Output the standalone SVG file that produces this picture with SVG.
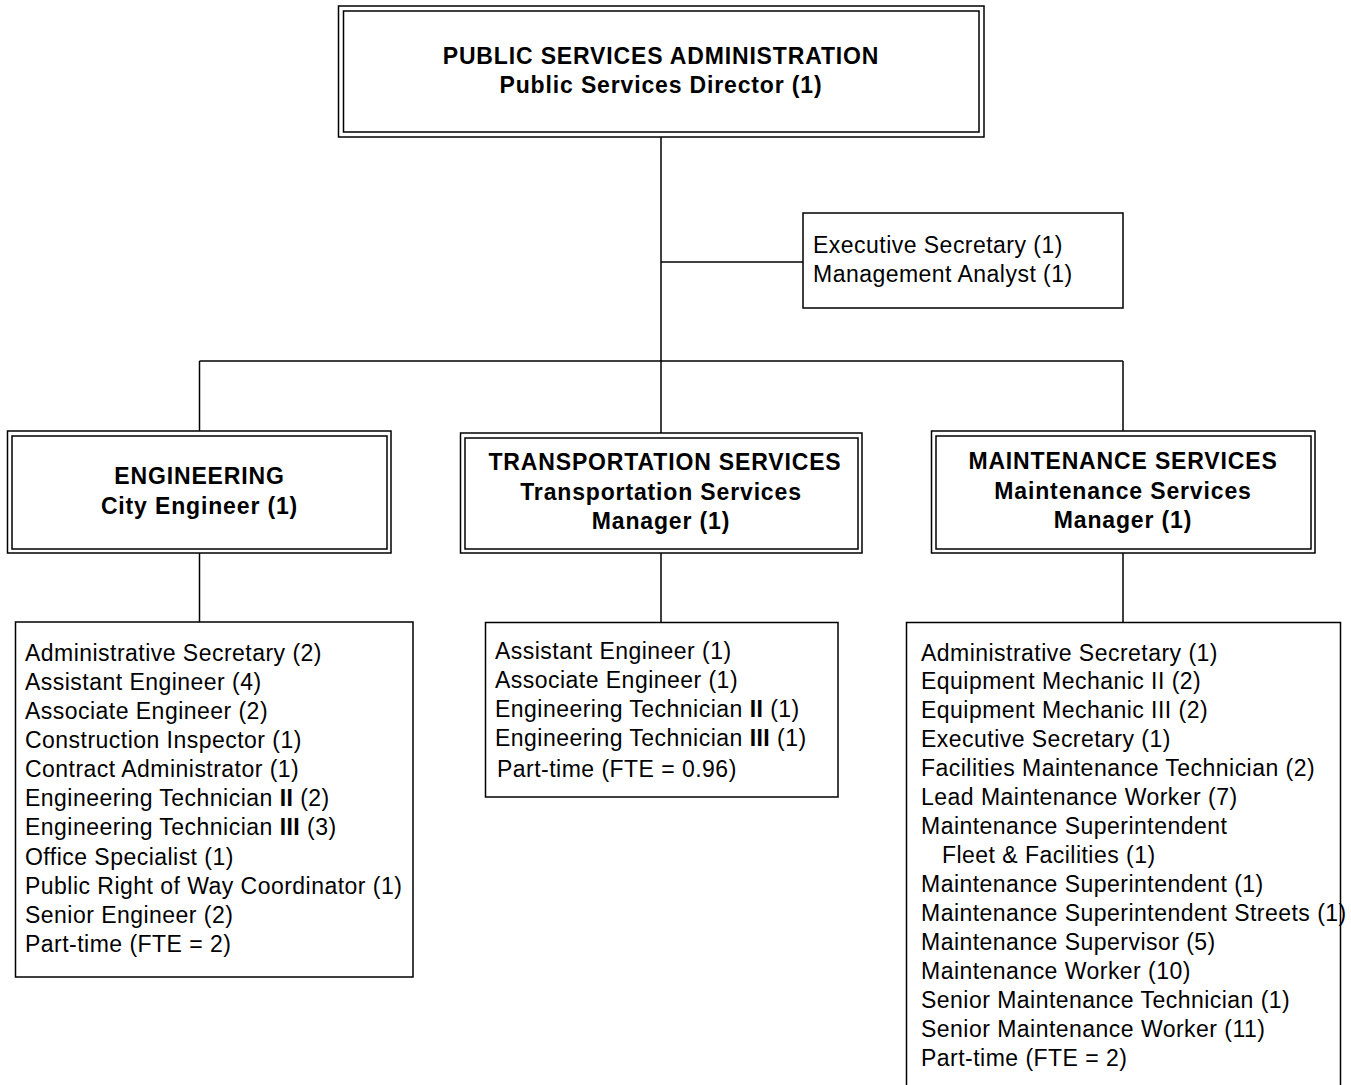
<svg xmlns="http://www.w3.org/2000/svg" width="1351" height="1085" viewBox="0 0 1351 1085">
<style>
rect{fill:none;stroke:#000;stroke-width:1.5}
.c line{stroke:#000;stroke-width:1.5}
text{font-family:"Liberation Sans",Arial,Helvetica,sans-serif;font-size:23px;fill:#000;letter-spacing:0.47px}
.h{font-weight:bold;text-anchor:middle;letter-spacing:0.85px}
.b{font-weight:bold}
</style>
<rect width="1351" height="1085" fill="#fff" stroke="none" style="fill:#fff;stroke:none"/>
<g class="c" id="connectors">
<line x1="661" y1="137" x2="661" y2="433"/>
<line x1="661" y1="262" x2="803" y2="262"/>
<line x1="199.5" y1="361" x2="1123" y2="361"/>
<line x1="199.5" y1="361" x2="199.5" y2="431"/>
<line x1="1123" y1="361" x2="1123" y2="431"/>
<line x1="199.5" y1="553" x2="199.5" y2="622"/>
<line x1="661" y1="553" x2="661" y2="623"/>
<line x1="1123" y1="553" x2="1123" y2="623"/>
</g>
<g id="admin">
<rect x="338.5" y="6" width="645.5" height="131"/>
<rect x="343.5" y="11" width="635.5" height="121"/>
<text class="h" x="661" y="64">PUBLIC SERVICES ADMINISTRATION</text>
<text class="h" x="661" y="93">Public Services Director (1)</text>
</g>
<g id="staff">
<rect x="803" y="213" width="320" height="95"/>
<text x="813" y="253">Executive Secretary (1)</text>
<text x="813" y="282">Management Analyst (1)</text>
</g>
<g id="engineering">
<rect x="7.5" y="431" width="383.5" height="122"/>
<rect x="12" y="436" width="375" height="113"/>
<text class="h" x="199.5" y="484">ENGINEERING</text>
<text class="h" x="199.5" y="514">City Engineer (1)</text>
</g>
<g id="transportation">
<rect x="460.5" y="433" width="401.5" height="120"/>
<rect x="465" y="438" width="393" height="111"/>
<text class="h" x="665" y="470">TRANSPORTATION SERVICES</text>
<text class="h" x="661" y="500">Transportation Services</text>
<text class="h" x="661" y="529">Manager (1)</text>
</g>
<g id="maintenance">
<rect x="931.5" y="431" width="383.5" height="122"/>
<rect x="936" y="436" width="375" height="113"/>
<text class="h" x="1123" y="469">MAINTENANCE SERVICES</text>
<text class="h" x="1123" y="499">Maintenance Services</text>
<text class="h" x="1123" y="528">Manager (1)</text>
</g>
<g id="engineering-staff">
<rect x="15.5" y="622" width="397.5" height="355"/>
<text x="25" y="661">Administrative Secretary (2)</text>
<text x="25" y="690">Assistant Engineer (4)</text>
<text x="25" y="719">Associate Engineer (2)</text>
<text x="25" y="748">Construction Inspector (1)</text>
<text x="25" y="777">Contract Administrator (1)</text>
<text x="25" y="806">Engineering Technician <tspan class="b">II</tspan> (2)</text>
<text x="25" y="835">Engineering Technician <tspan class="b">III</tspan> (3)</text>
<text x="25" y="865">Office Specialist (1)</text>
<text x="25" y="894">Public Right of Way Coordinator (1)</text>
<text x="25" y="923">Senior Engineer (2)</text>
<text x="25" y="952">Part-time (FTE = 2)</text>
</g>
<g id="transportation-staff">
<rect x="485.5" y="622.5" width="352.5" height="174.5"/>
<text x="495" y="659">Assistant Engineer (1)</text>
<text x="495" y="688">Associate Engineer (1)</text>
<text x="495" y="717">Engineering Technician <tspan class="b">II</tspan> (1)</text>
<text x="495" y="746">Engineering Technician <tspan class="b">III</tspan> (1)</text>
<text x="497" y="777">Part-time (FTE = 0.96)</text>
</g>
<g id="maintenance-staff">
<rect x="906.5" y="622.5" width="434" height="480"/>
<text x="921" y="661">Administrative Secretary (1)</text>
<text x="921" y="689">Equipment Mechanic II (2)</text>
<text x="921" y="718">Equipment Mechanic III (2)</text>
<text x="921" y="747">Executive Secretary (1)</text>
<text x="921" y="776">Facilities Maintenance Technician (2)</text>
<text x="921" y="805">Lead Maintenance Worker (7)</text>
<text x="921" y="834">Maintenance Superintendent</text>
<text x="942" y="863">Fleet &amp; Facilities (1)</text>
<text x="921" y="892">Maintenance Superintendent (1)</text>
<text x="921" y="921">Maintenance Superintendent Streets (1)</text>
<text x="921" y="950">Maintenance Supervisor (5)</text>
<text x="921" y="979">Maintenance Worker (10)</text>
<text x="921" y="1008">Senior Maintenance Technician (1)</text>
<text x="921" y="1037">Senior Maintenance Worker (11)</text>
<text x="921" y="1066">Part-time (FTE = 2)</text>
</g>
</svg>
